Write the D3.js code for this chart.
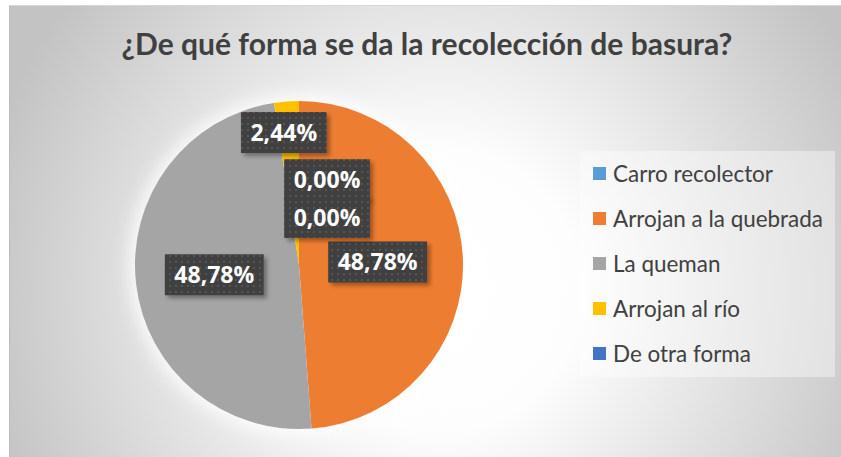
<!DOCTYPE html>
<html lang="es">
<head>
<meta charset="UTF-8">
<title>¿De qué forma se da la recolección de basura?</title>
<script src="https://d3js.org/d3.v7.min.js"></script>
<style>
  body { margin: 0; background: #fff; }
  svg { display: block; }
</style>
</head>
<body>
<script>
// data (41 respuestas)
const categories = ["Carro recolector", "Arrojan a la quebrada", "La queman", "Arrojan al río", "De otra forma"];
const values = [0, 20, 20, 1, 0];
const colors = ["#5B9BD5", "#ED7D31", "#A5A5A5", "#FFC000", "#4472C4"];
const title = "¿De qué forma se da la recolección de basura?";

// label placement along each slice: fraction of radius + sideways nudge (best-fit look)
const labelRadius = [0.52, 0.48, 0.52, 0.81, 0.29];
const labelShift = [28, 0, 0, -5, 28];

const width = 841, height = 457;
const cx = 299, cy = 265, r = 164;

const locale = d3.formatLocale({decimal: ",", thousands: ".", grouping: [3], currency: ["", "€"]});
const pct = locale.format(".2%");
const total = d3.sum(values);

const svg = d3.select("body").append("svg")
    .attr("width", width)
    .attr("height", height);

const defs = svg.append("defs");

const bg = defs.append("radialGradient")
    .attr("id", "bg")
    .attr("gradientUnits", "userSpaceOnUse")
    .attr("cx", 440).attr("cy", 290).attr("r", 470);
bg.append("stop").attr("offset", 0).attr("stop-color", "#ffffff");
bg.append("stop").attr("offset", 0.3).attr("stop-color", "#fdfdfd");
bg.append("stop").attr("offset", 1).attr("stop-color", "#c3c3c3");

defs.append("filter").attr("id", "glow")
    .attr("x", "-30%").attr("y", "-30%").attr("width", "160%").attr("height", "160%")
  .append("feGaussianBlur").attr("stdDeviation", 9);

const shadow = defs.append("filter").attr("id", "shadow")
    .attr("x", "-20%").attr("y", "-30%").attr("width", "150%").attr("height", "180%");
shadow.append("feDropShadow")
    .attr("dx", 3).attr("dy", 3).attr("stdDeviation", 2)
    .attr("flood-color", "#000").attr("flood-opacity", 0.35);

const dots = defs.append("pattern")
    .attr("id", "dots")
    .attr("patternUnits", "userSpaceOnUse")
    .attr("width", 6).attr("height", 6);
dots.append("rect").attr("width", 6).attr("height", 6).attr("fill", "#404040");
dots.append("rect").attr("x", 2).attr("y", 2).attr("width", 2).attr("height", 2).attr("fill", "#555555");

// chart area
svg.append("rect")
    .attr("x", 9).attr("y", 5)
    .attr("width", width - 9).attr("height", height - 5)
    .attr("fill", "url(#bg)");
svg.append("line")
    .attr("x1", 9.5).attr("x2", 9.5).attr("y1", 5).attr("y2", height)
    .attr("stroke", "#bdbdbd");
svg.append("line")
    .attr("x1", 9).attr("x2", width).attr("y1", 5.5).attr("y2", 5.5)
    .attr("stroke", "#d6d6d6");

// title
const titleText = svg.append("text")
    .attr("x", 427).attr("y", 55)
    .attr("text-anchor", "middle")
    .attr("font-family", "Lato, 'Open Sans', sans-serif")
    .attr("font-weight", "bold")
    .attr("font-size", 24)
    .attr("fill", "#404040")
    .text(title);
fitWidth(titleText, 611);

// pie
const pie = d3.pie().sort(null).value(d => d)(values);
const arc = d3.arc().innerRadius(0).outerRadius(r);

const g = svg.append("g").attr("transform", `translate(${cx},${cy})`);

g.append("circle")
    .attr("r", r + 6)
    .attr("fill", "#ffffff")
    .attr("opacity", 0.85)
    .attr("filter", "url(#glow)");

g.selectAll("path.slice")
    .data(pie)
    .join("path")
    .attr("class", "slice")
    .attr("d", arc)
    .attr("fill", (d, i) => colors[i]);

// data labels
const labels = g.selectAll("g.label")
    .data(pie)
    .join("g")
    .attr("class", "label");

labels.each(function(d, i) {
    const lg = d3.select(this);
    const a = (d.startAngle + d.endAngle) / 2;
    const rr = r * labelRadius[i];
    const x = Math.sin(a) * rr + labelShift[i];
    const y = -Math.cos(a) * rr;
    const t = lg.append("text")
        .attr("x", x).attr("y", y)
        .attr("dy", "0.36em")
        .attr("text-anchor", "middle")
        .attr("font-family", "'Open Sans', Lato, sans-serif")
        .attr("font-weight", "bold")
        .attr("font-size", 23)
        .attr("fill", "#ffffff")
        .text(pct(values[i] / total));
    const w = t.node().getComputedTextLength() + 19;
    const h = 41;
    lg.insert("rect", "text")
        .attr("x", x - w / 2).attr("y", y - h / 2)
        .attr("width", w).attr("height", h)
        .attr("fill", "url(#dots)")
        .attr("filter", "url(#shadow)");
});

// legend
const legend = svg.append("g").attr("transform", "translate(580,151)");
legend.append("rect")
    .attr("width", 255).attr("height", 226)
    .attr("fill", "#ffffff").attr("opacity", 0.4);

const item = legend.selectAll("g.item")
    .data(categories)
    .join("g")
    .attr("class", "item")
    .attr("transform", (d, i) => `translate(13,${23 + i * 45})`);

item.append("rect")
    .attr("y", -7).attr("width", 13).attr("height", 13)
    .attr("fill", (d, i) => colors[i]);

const legendText = item.append("text")
    .attr("x", 20).attr("y", 7.5)
    .attr("font-family", "Lato, 'Open Sans', sans-serif")
    .attr("font-size", 21)
    .attr("fill", "#404040")
    .text(d => d);

// size the legend font so the longest entry spans like the original
const longest = d3.max(legendText.nodes(), n => n.getComputedTextLength());
legendText.attr("font-size", (21 * 210 / longest).toFixed(2));

function fitWidth(sel, target) {
    const w = sel.node().getComputedTextLength();
    const fs = +sel.attr("font-size");
    sel.attr("font-size", (fs * target / w).toFixed(2));
}
</script>
</body>
</html>
